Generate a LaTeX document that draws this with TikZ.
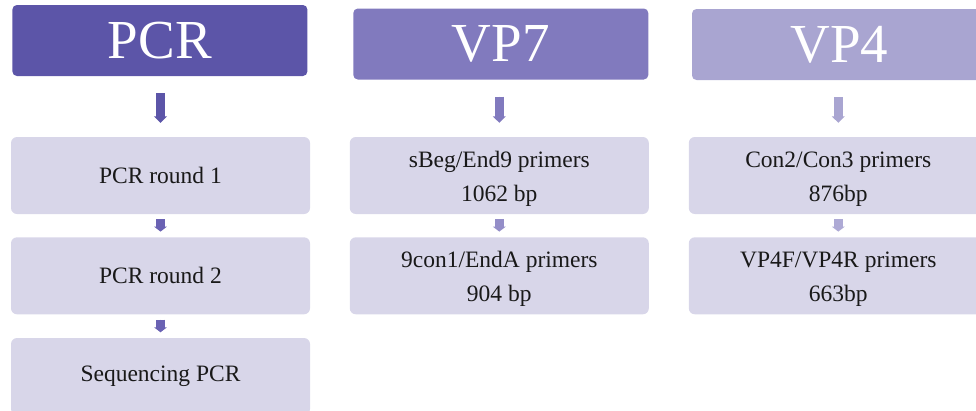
\documentclass[tikz,border=0pt]{standalone}
\usepackage{fontspec}
\setmainfont{Liberation Serif}
\usetikzlibrary{arrows.meta}
\definecolor{hA}{HTML}{5C55A8}
\definecolor{hB}{HTML}{817ABE}
\definecolor{hC}{HTML}{A9A5D1}
\definecolor{aA}{HTML}{6A62B3}
\definecolor{aB}{HTML}{948EC8}
\definecolor{aC}{HTML}{AEAAD5}
\definecolor{boxfill}{HTML}{D8D6E9}
\newcommand{\topstrut}{\rule{0pt}{22pt}}
\tikzset{
  header/.style={rectangle, rounded corners=4.5pt, minimum width=295pt, minimum height=71pt, inner sep=0pt, text=white, font=\fontsize{55}{55}\selectfont},
  stepbox/.style={rectangle, rounded corners=6pt, fill=boxfill, minimum width=299pt, minimum height=77pt, inner sep=0pt, align=center, text=black!90, font=\fontsize{23.5}{34}\selectfont},
  bigarrow/.style={line width=8.5pt, -{Triangle[width=12.7pt,length=6.5pt]}, shorten <=17pt, shorten >=14pt},
  smallarrow/.style={line width=8.5pt, -{Triangle[width=12.7pt,length=5pt]}, shorten <=5pt, shorten >=5.5pt}
}
\begin{document}
\begin{tikzpicture}[x=1pt,y=-1pt]
\useasboundingbox (0,0) rectangle (976,410);
\clip (0,0) rectangle (976,410);
% headers
\node[header, fill=hA] (h1) at (159.9,40.5) {PCR};
\node[header, fill=hB] (h2) at (500.8,44) {VP7};
\node[header, fill=hC] (h3) at (839.5,44.5) {VP4};
% PCR column
\node[stepbox] (p1) at (160.5,175.5) {PCR round 1};
\node[stepbox] (p2) at (160.5,275.8) {PCR round 2};
\node[stepbox] (p3) at (160.5,376.5) {Sequencing PCR};
% VP7 column
\node[stepbox] (v1) at (499.3,175.5) {\topstrut sBeg/End9 primers\\1062 bp};
\node[stepbox] (v2) at (499.3,275.8) {\topstrut 9con1/EndA primers\\904 bp};
% VP4 column
\node[stepbox] (w1) at (838.3,175.5) {\topstrut Con2/Con3 primers\\876bp};
\node[stepbox] (w2) at (838.3,275.8) {\topstrut VP4F/VP4R primers\\663bp};
% arrows
\draw[bigarrow, draw=hA, fill=hA] (h1.south -| p1.north) -- (p1.north);
\draw[smallarrow, draw=aA, fill=aA] (p1.south) -- (p2.north);
\draw[smallarrow, draw=aA, fill=aA] (p2.south) -- (p3.north);
\draw[bigarrow, draw=hB, fill=hB] (h2.south -| v1.north) -- (v1.north);
\draw[smallarrow, draw=aB, fill=aB] (v1.south) -- (v2.north);
\draw[bigarrow, draw=hC, fill=hC] (h3.south -| w1.north) -- (w1.north);
\draw[smallarrow, draw=aC, fill=aC] (w1.south) -- (w2.north);
\end{tikzpicture}
\end{document}
